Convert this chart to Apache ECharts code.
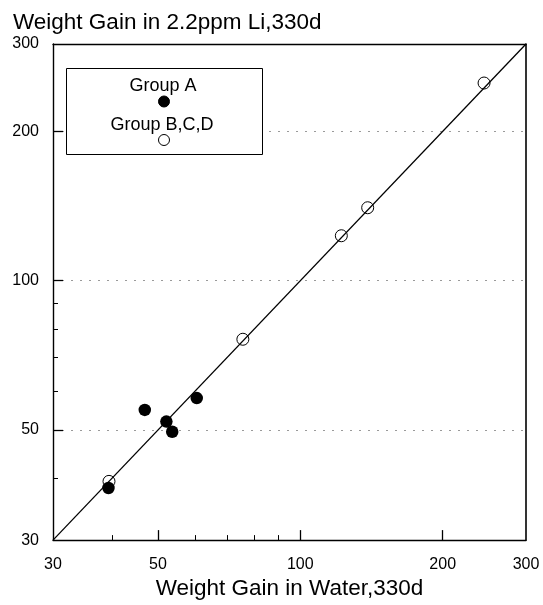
<!DOCTYPE html>
<html>
<head>
<meta charset="utf-8">
<script src="https://cdn.jsdelivr.net/npm/echarts@6/dist/echarts.min.js"></script>
<style>
  html, body { margin: 0; padding: 0; background: #fff; }
  #chart { width: 543px; height: 605px; }
</style>
</head>
<body>
<div id="chart"></div>
<script>
// Weight gain after 330 days: water vs 2.2ppm Li (log-log)
const groupA = [
  [39.3, 38.2],
  [46.9, 54.9],
  [52.1, 52.0],
  [53.6, 49.6],
  [60.4, 58.0]
];
const groupBCD = [
  [39.4, 39.4],
  [75.6, 76.2],
  [122.1, 123.2],
  [138.8, 140.3],
  [244.6, 250.3]
];
const identityLine = [[30, 30], [300, 300]];

const axisMin = 30;
const axisMax = 300;
const tickLabels = [30, 50, 100, 200, 300];
const majorTicks = [50, 100, 200];
const minorTicks = [40, 60, 70, 80, 90];

const FONT = 'Liberation Sans, Arial, Helvetica, sans-serif';

const chart = echarts.init(document.getElementById('chart'), null, { renderer: 'canvas' });

function logAxis(extra) {
  return Object.assign({
    type: 'log',
    logBase: 10,
    min: axisMin,
    max: axisMax,
    axisLine: { show: false },
    axisTick: { show: false },
    axisLabel: { show: false },
    splitLine: { show: false },
    minorTick: { show: false },
    minorSplitLine: { show: false }
  }, extra);
}

// axis carrying only inward tick marks (optionally with grid lines)
function tickAxis(position, values, len, width, grid) {
  return logAxis({
    position: position,
    axisTick: { show: true, inside: true, length: len, customValues: values, lineStyle: { color: '#000', width: width } },
    splitLine: { show: !!grid, lineStyle: { color: '#9a9a9a', width: 1, type: [2, 7] } }
  });
}

// axis carrying the axis line and the tick labels
function labelAxis(position, margin, extra) {
  return logAxis(Object.assign({
    position: position,
    axisLine: { show: true, lineStyle: { color: '#000', width: 1.4 } },
    axisLabel: { show: true, customValues: tickLabels, margin: margin, fontFamily: FONT, fontSize: 16, color: '#000', showMinLabel: true, showMaxLabel: true }
  }, extra || {}));
}

const option = {
  backgroundColor: '#fff',
  animation: false,
  title: {
    text: 'Weight Gain in 2.2ppm Li,330d',
    left: 8,
    top: 6,
    textStyle: { fontFamily: FONT, fontSize: 22.5, fontWeight: 'normal', color: '#000' }
  },
  grid: { left: 53, right: 17, top: 44, bottom: 60, containLabel: false },
  xAxis: [
    labelAxis('bottom', 16, {
      name: 'Weight Gain in Water,330d',
      nameLocation: 'middle',
      nameGap: 36,
      nameTextStyle: { fontFamily: FONT, fontSize: 22.5, color: '#000' }
    }),
    tickAxis('bottom', majorTicks, 10, 1.3, false),
    tickAxis('bottom', minorTicks, 5, 1, false),
    logAxis({
      position: 'top',
      axisLine: { show: true, lineStyle: { color: '#000', width: 1.4 } }
    })
  ],
  yAxis: [
    labelAxis('left', 14),
    tickAxis('left', majorTicks, 10, 1.3, true),
    tickAxis('left', minorTicks, 5, 1, false),
    logAxis({
      position: 'right',
      axisLine: { show: true, lineStyle: { color: '#000', width: 1.6 } }
    })
  ],
  graphic: [
    {
      type: 'rect',
      shape: { x: 66.5, y: 68.5, width: 196, height: 86 },
      style: { fill: '#fff', stroke: '#000', lineWidth: 1 },
      z: 10
    },
    {
      type: 'text',
      x: 163, y: 86,
      style: { text: 'Group A', fontFamily: FONT, fontSize: 18, fill: '#000', align: 'center', verticalAlign: 'middle' },
      z: 11
    },
    {
      type: 'circle',
      shape: { cx: 164, cy: 101.5, r: 5.5 },
      style: { fill: '#000', stroke: '#000', lineWidth: 1 },
      z: 11
    },
    {
      type: 'text',
      x: 162, y: 125,
      style: { text: 'Group B,C,D', fontFamily: FONT, fontSize: 18, fill: '#000', align: 'center', verticalAlign: 'middle' },
      z: 11
    },
    {
      type: 'circle',
      shape: { cx: 164, cy: 140, r: 5.5 },
      style: { fill: '#fff', stroke: '#000', lineWidth: 1 },
      z: 11
    }
  ],
  series: [
    {
      name: 'y = x',
      type: 'line',
      xAxisIndex: 0,
      yAxisIndex: 0,
      data: identityLine,
      symbol: 'none',
      lineStyle: { color: '#000', width: 1.3 },
      z: 2
    },
    {
      name: 'Group B,C,D',
      type: 'scatter',
      xAxisIndex: 0,
      yAxisIndex: 0,
      data: groupBCD,
      symbol: 'circle',
      symbolSize: 12,
      itemStyle: { color: 'rgba(255,255,255,0)', borderColor: '#000', borderWidth: 1, opacity: 1 },
      z: 3
    },
    {
      name: 'Group A',
      type: 'scatter',
      xAxisIndex: 0,
      yAxisIndex: 0,
      data: groupA,
      symbol: 'circle',
      symbolSize: 12.5,
      itemStyle: { color: '#000', borderWidth: 0, opacity: 1 },
      z: 4
    }
  ]
};

chart.setOption(option);
</script>
</body>
</html>
